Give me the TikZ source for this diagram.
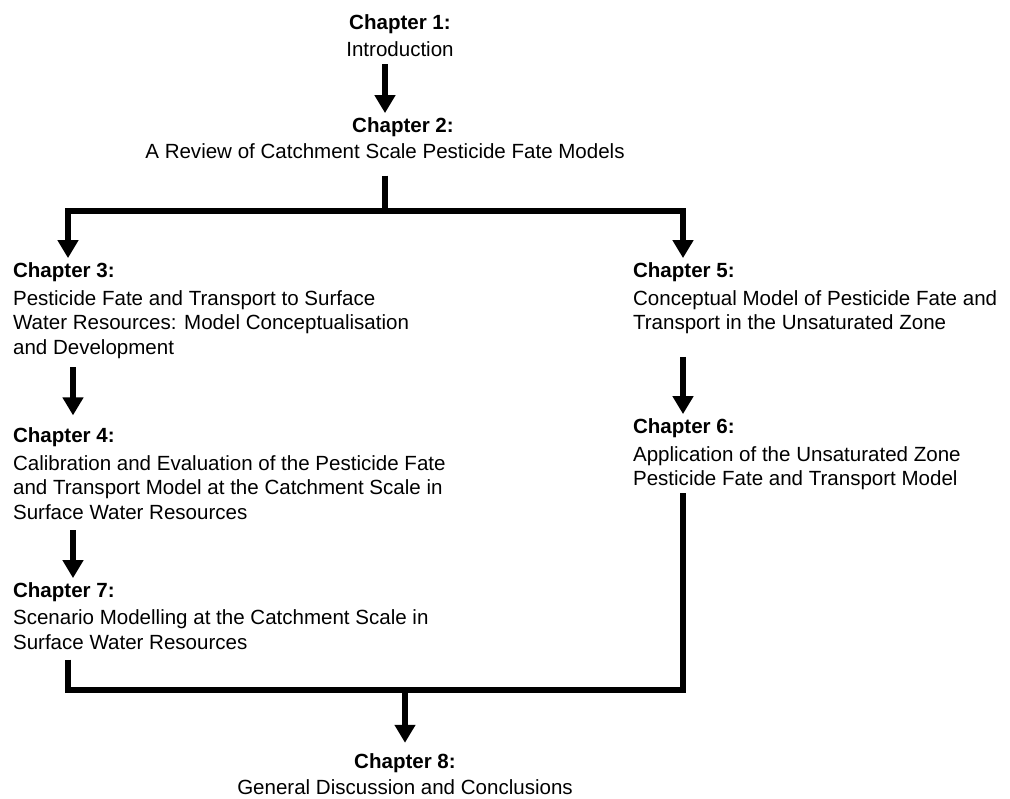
\documentclass[tikz,border=0pt]{standalone}
\usepackage{fontspec}
\setmainfont{Liberation Sans}
\usetikzlibrary{arrows.meta,positioning,calc}

\begin{document}
\begin{tikzpicture}[
    x=0.025cm, y=-0.025cm,
    chap/.style={inner sep=2pt, align=left, anchor=north west, font=\fontsize{14.6}{17.4}\selectfont},
    chapmid/.style={chap, align=center, anchor=north},
    arrow/.style={->, >={Triangle[width=0.5cm,length=0.45cm]}, line width=0.15cm, shorten <=4pt, shorten >=1pt},
    link/.style={line width=0.15cm}
]
    \useasboundingbox (0,0) rectangle (1010,798);
    % columns of the connectors
    \coordinate (lcol) at (68,0);
    \coordinate (mcol) at (73,0);
    \coordinate (rcol) at (683,0);
    \coordinate (split) at (385,211);
    \coordinate (merge) at (405,690);

    \node[chapmid] (ch1) at (400,11.5) {\textbf{Chapter 1:}\\[1.5pt]Introduction};
    \node[chapmid] (ch2) at (385,114.5) {\hspace*{0.9cm}\textbf{Chapter 2:}\\[1pt]A Review of Catchment Scale Pesticide Fate Models};
    \node[chap] (ch3) at (10,259.5) {\textbf{Chapter 3:}\\[2.5pt]Pesticide Fate and Transport to Surface\\Water Resources: Model Conceptualisation\\and Development};
    \node[chap] (ch4) at (10,424.5) {\textbf{Chapter 4:}\\[2.5pt]Calibration and Evaluation of the Pesticide Fate\\and Transport Model at the Catchment Scale in\\Surface Water Resources};
    \node[chap] (ch7) at (10,579.5) {\textbf{Chapter 7:}\\[2pt]Scenario Modelling at the Catchment Scale in\\Surface Water Resources};
    \node[chap] (ch5) at (630,259.5) {\textbf{Chapter 5:}\\[2.5pt]Conceptual Model of Pesticide Fate and\\Transport in the Unsaturated Zone};
    \node[chap] (ch6) at (630,415.5) {\textbf{Chapter 6:}\\[2.5pt]Application of the Unsaturated Zone\\Pesticide Fate and Transport Model};
    \node[chapmid] (ch8) at (405,750.5) {\textbf{Chapter 8:}\\[1pt]General Discussion and Conclusions};

    \draw[arrow, shorten <=3.5pt] (ch2.north |- ch1.south) -- (ch2.north);
    \draw[link, shorten <=10pt] (ch2.south) -- (split);
    \draw[arrow, shorten <=0pt] (split) -| (ch3.north -| lcol);
    \draw[arrow, shorten <=0pt] (split) -| (ch5.north -| rcol);
    \draw[arrow, shorten >=6.5pt] (ch3.south -| mcol) -- (ch4.north -| mcol);
    \draw[arrow, shorten <=5.5pt] (ch4.south -| mcol) -- (ch7.north -| mcol);
    \draw[arrow, shorten <=14pt] (ch5.south -| rcol) -- (ch6.north -| rcol);
    \draw[link, shorten <=5pt] (ch7.south -| lcol) -- (lcol |- merge) -- (rcol |- merge) -- (ch6.south -| rcol);
    \draw[arrow, shorten <=0pt, shorten >=5.5pt] (merge) -- (ch8.north);
\end{tikzpicture}
\end{document}
